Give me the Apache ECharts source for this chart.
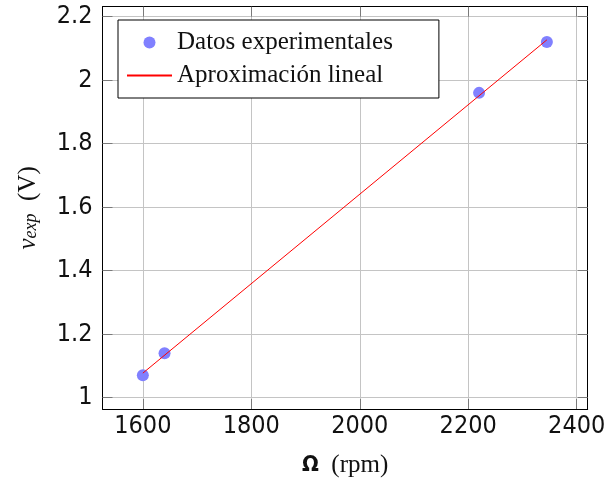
<!DOCTYPE html>
<html>
<head>
<meta charset="utf-8">
<script src="https://cdn.jsdelivr.net/npm/echarts@6/dist/echarts.min.js"></script>
<style>
  html, body { margin: 0; padding: 0; background: #fff; }
  #chart { width: 604px; height: 484px; }
</style>
</head>
<body>
<div id="chart"></div>
<script>
// Measured speed (rpm) and output voltage (V)
const omega = [1600, 1640, 2220, 2345];
const voltage = [1.07, 1.14, 1.96, 2.12];

// Linear fit endpoints
const fitOmega = [1600, 2345];
const fitVoltage = [1.077, 2.127];

// Axis ranges and tick values
const xRange = [1525.6, 2420.3];
const yRange = [0.964, 2.2315];
const xTicks = [1600, 1800, 2000, 2200, 2400];
const yTicks = [1, 1.2, 1.4, 1.6, 1.8, 2, 2.2];

const seriesNames = ['Datos experimentales', 'Aproximación lineal'];

const tickFont = "'DejaVu Sans Condensed', 'Liberation Sans Narrow', 'Liberation Sans', sans-serif";
const serif = "'Liberation Serif', serif";

function axisBase(ticks, range, showLabels, pos) {
  return {
    type: 'value',
    position: pos,
    min: range[0],
    max: range[1],
    axisLine: { show: true, onZero: false, lineStyle: { color: '#000', width: 1 } },
    axisTick: { show: true, inside: true, length: 10, customValues: ticks,
                lineStyle: { color: '#7a7a7a', width: 1 } },
    axisLabel: { show: showLabels, customValues: ticks, fontFamily: tickFont,
                 fontSize: 25, color: '#111', formatter: v => String(v) },
    splitLine: { show: showLabels, lineStyle: { color: '#c4c4c4', width: 1 } }
  };
}

const chart = echarts.init(document.getElementById('chart'), null, { renderer: 'canvas' });

const xMain = axisBase(xTicks, xRange, true, 'bottom');
xMain.axisLabel.margin = 5;
xMain.name = '{o|Ω}{t|  (rpm)}';
xMain.nameLocation = 'middle';
xMain.nameGap = 44;
xMain.nameTextStyle = {
  rich: {
    o: { fontFamily: tickFont, fontSize: 22, fontWeight: 'bold', color: '#111' },
    t: { fontFamily: serif, fontSize: 25, color: '#111' }
  }
};

const yMain = axisBase(yTicks, yRange, true, 'left');
yMain.axisLabel.margin = 10;
yMain.name = '{v|v}{s|exp}{t|  (V)}';
yMain.nameLocation = 'middle';
yMain.nameRotate = 90;
yMain.nameGap = 62;
yMain.nameTextStyle = {
  rich: {
    v: { fontFamily: serif, fontStyle: 'italic', fontSize: 25, color: '#111', lineHeight: 30, verticalAlign: 'bottom' },
    s: { fontFamily: serif, fontStyle: 'italic', fontSize: 18, color: '#111', lineHeight: 20, verticalAlign: 'bottom' },
    t: { fontFamily: serif, fontSize: 25, color: '#111', lineHeight: 30, verticalAlign: 'bottom' }
  }
};

const option = {
  animation: false,
  backgroundColor: '#fff',
  grid: { left: 102.5, right: 16.3, top: 6.7, bottom: 75, containLabel: false, outerBoundsMode: 'none' },
  legend: {
    show: true,
    data: seriesNames,
    orient: 'vertical',
    left: 118,
    top: 20,
    padding: [10, 46, 10, 8],
    borderColor: '#000',
    borderWidth: 1,
    backgroundColor: '#fff',
    itemWidth: 45,
    itemHeight: 12,
    itemGap: 8,
    textStyle: { fontFamily: serif, fontSize: 25, color: '#111', lineHeight: 24 }
  },
  xAxis: [xMain, axisBase(xTicks, xRange, false, 'top')],
  yAxis: [yMain, axisBase(yTicks, yRange, false, 'right')],
  series: [
    {
      name: seriesNames[0],
      type: 'scatter',
      symbol: 'circle',
      symbolSize: 12,
      itemStyle: { color: '#8080ff', opacity: 1 },
      data: omega.map((w, i) => [w, voltage[i]]),
      z: 2
    },
    {
      name: seriesNames[1],
      type: 'line',
      symbol: 'none',
      lineStyle: { color: '#ff0000', width: 1 },
      itemStyle: { color: 'rgba(0,0,0,0)', borderColor: 'rgba(0,0,0,0)' },
      data: fitOmega.map((w, i) => [w, fitVoltage[i]]),
      z: 3
    }
  ]
};

chart.setOption(option);
</script>
</body>
</html>
